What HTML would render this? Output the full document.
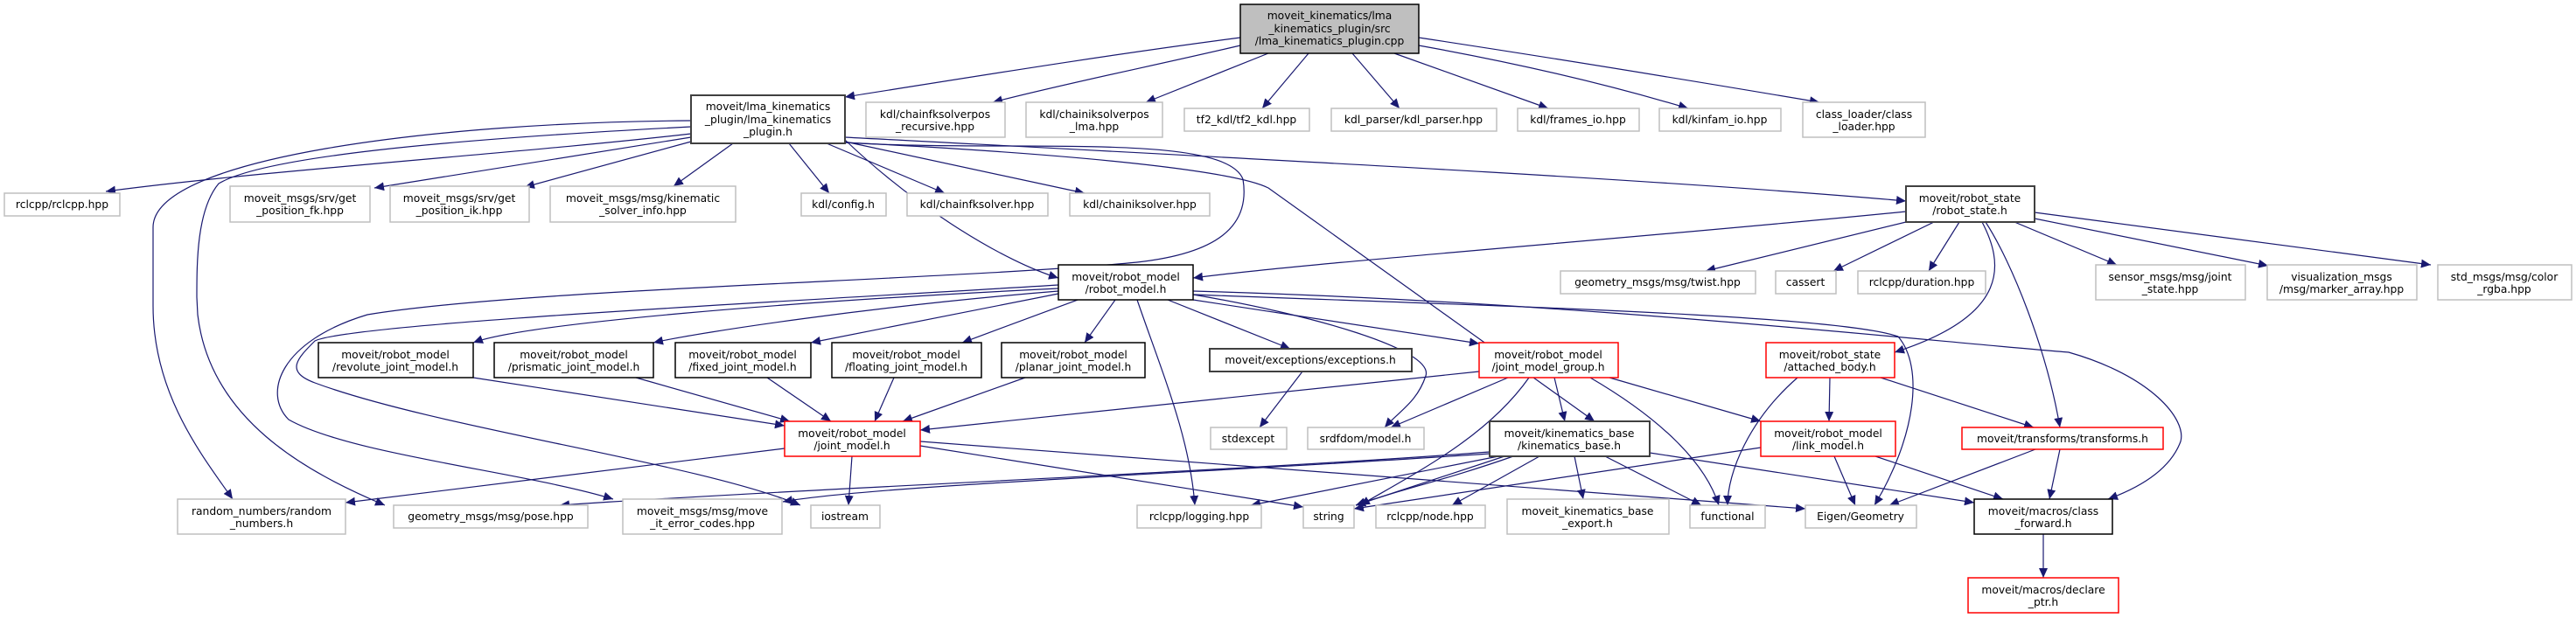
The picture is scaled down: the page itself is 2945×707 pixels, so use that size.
<!DOCTYPE html>
<html><head><meta charset="utf-8"><style>
html,body{margin:0;padding:0;background:#fff;}
svg{display:block;}
text{font-family:"DejaVu Sans","Liberation Sans",sans-serif;font-size:12.3px;fill:#000;text-anchor:middle;}
.b{fill:#fff;stroke:#000;stroke-width:1.5}
.k{fill:#fff;stroke:#404040;stroke-width:2}
.g{fill:#fff;stroke:#bfbfbf;stroke-width:1.5}
.r{fill:#fff;stroke:#ff0000;stroke-width:1.5}
.e{fill:none;stroke:#191970;stroke-width:1.2;marker-end:url(#a)}
</style></head><body>
<svg width="2945" height="707" viewBox="0 0 2945 707" xmlns="http://www.w3.org/2000/svg">
<defs><marker id="a" markerUnits="userSpaceOnUse" markerWidth="12" markerHeight="10" refX="11" refY="5" orient="auto"><path d="M0,0 L11,5 L0,10 z" fill="#191970"/></marker></defs>
<g>
<path class="e" d="M1418,43 C1250,65 1100,90 966,111"/>
<path class="e" d="M1418,52 C1320,75 1220,95 1135,117"/>
<path class="e" d="M1450,61 L1310,117"/>
<path class="e" d="M1496,61 L1443,124"/>
<path class="e" d="M1546,61 L1600,124"/>
<path class="e" d="M1594,61 L1770,124"/>
<path class="e" d="M1622,52 C1750,75 1850,100 1930,124"/>
<path class="e" d="M1622,43 C1800,70 1950,95 2080,117"/>
<path class="e" d="M790,153 C600,175 300,195 121,219"/>
<path class="e" d="M790,157 L428,215"/>
<path class="e" d="M790,162 L600,214"/>
<path class="e" d="M838,164 L770,213"/>
<path class="e" d="M902,164 L948,221"/>
<path class="e" d="M945,164 L1080,221"/>
<path class="e" d="M966,162 L1240,221"/>
<path class="e" d="M966,157 C1400,180 1900,205 2179,230"/>
<path class="e" d="M966,160 C1050,240 1150,300 1210,318"/>
<path class="e" d="M966,163 C1300,180 1420,200 1450,215 L1823,482"/>
<path class="e" d="M790,138 C500,140 175,180 175,260 L175,350 C175,450 230,520 266,571"/>
<path class="e" d="M790,145 C500,160 300,180 250,210 C225,240 225,300 225,340 L226,360 C240,480 350,540 440,578"/>
<path class="e" d="M966,163 C1150,175 1400,150 1421,205 C1430,260 1390,290 1300,300 C1100,320 600,330 420,360 C320,390 300,450 330,480 C400,520 600,540 701,571"/>
<path class="e" d="M1210,330 C900,345 600,370 541,392"/>
<path class="e" d="M1210,333 C1000,350 800,380 747,392"/>
<path class="e" d="M1210,336 L927,392"/>
<path class="e" d="M1232,343 L1100,392"/>
<path class="e" d="M1275,343 L1240,392"/>
<path class="e" d="M1335,343 L1475,399"/>
<path class="e" d="M1364,343 L1691,393"/>
<path class="e" d="M1300,343 C1330,430 1360,500 1366,578"/>
<path class="e" d="M1364,337 C1500,360 1640,400 1630,430 C1620,460 1600,470 1583,489"/>
<path class="e" d="M1210,326 C900,345 400,370 360,390 C340,410 325,425 360,438 C500,490 800,530 915,578"/>
<path class="e" d="M1364,337 C1700,350 2100,360 2170,385 C2200,420 2190,500 2143,578"/>
<path class="e" d="M1364,333 C1800,345 2200,390 2365,403 C2460,430 2500,480 2493,505 C2480,540 2440,560 2410,571"/>
<path class="e" d="M2179,242 C1900,270 1500,300 1364,318"/>
<path class="e" d="M2179,254 L1950,310"/>
<path class="e" d="M2211,254 L2096,310"/>
<path class="e" d="M2240,254 L2205,310"/>
<path class="e" d="M2303,254 L2420,303"/>
<path class="e" d="M2326,250 L2593,304"/>
<path class="e" d="M2326,243 L2779,303"/>
<path class="e" d="M2266,254 C2290,300 2300,360 2166,403"/>
<path class="e" d="M2270,254 C2300,300 2340,400 2355,489"/>
<path class="e" d="M1691,425 L1052,492"/>
<path class="e" d="M1724,432 L1590,489"/>
<path class="e" d="M1777,432 L1789,482"/>
<path class="e" d="M1748,432 C1700,500 1620,540 1555,578"/>
<path class="e" d="M1818,432 C1900,480 1950,530 1965,578"/>
<path class="e" d="M1840,432 L2013,482"/>
<path class="e" d="M897,513 L395,575"/>
<path class="e" d="M974,522 L970,578"/>
<path class="e" d="M1052,510 L1490,580"/>
<path class="e" d="M1052,505 L2064,582"/>
<path class="e" d="M541,432 L897,487"/>
<path class="e" d="M727,432 L903,482"/>
<path class="e" d="M877,432 L950,482"/>
<path class="e" d="M1022,432 L1000,482"/>
<path class="e" d="M1172,432 L1032,482"/>
<path class="e" d="M1489,425 L1440,489"/>
<path class="e" d="M1703,517 C1400,540 900,560 640,578"/>
<path class="e" d="M1703,519 C1400,540 1000,555 895,574"/>
<path class="e" d="M1713,522 L1430,578"/>
<path class="e" d="M1720,522 L1550,578"/>
<path class="e" d="M1730,522 C1650,550 1600,560 1550,578"/>
<path class="e" d="M1760,522 L1660,578"/>
<path class="e" d="M1800,522 L1810,571"/>
<path class="e" d="M1835,522 L1945,578"/>
<path class="e" d="M1886,518 L2257,575"/>
<path class="e" d="M2013,512 L1548,582"/>
<path class="e" d="M2097,522 L2121,578"/>
<path class="e" d="M2144,522 L2290,571"/>
<path class="e" d="M2055,432 C2000,480 1975,540 1975,578"/>
<path class="e" d="M2092,432 L2091,482"/>
<path class="e" d="M2150,432 L2325,489"/>
<path class="e" d="M2327,514 L2160,578"/>
<path class="e" d="M2355,514 L2343,571"/>
<path class="e" d="M2336,611 L2336,661"/>
</g>
<g>
<rect x="1418" y="5" width="204" height="56" fill="#bfbfbf" stroke="#000" stroke-width="1.5"/>
<text x="1520" y="22">moveit_kinematics/lma</text><text x="1520" y="37">_kinematics_plugin/src</text><text x="1520" y="51">/lma_kinematics_plugin.cpp</text>
<rect class="k" x="790" y="109" width="176" height="55"/>
<text x="878" y="126">moveit/lma_kinematics</text><text x="878" y="141">_plugin/lma_kinematics</text><text x="878" y="155">_plugin.h</text>
<rect class="g" x="990" y="117" width="159" height="40"/><text x="1069" y="135">kdl/chainfksolverpos</text><text x="1069" y="149">_recursive.hpp</text>
<rect class="g" x="1173" y="117" width="156" height="40"/><text x="1251" y="135">kdl/chainiksolverpos</text><text x="1251" y="149">_lma.hpp</text>
<rect class="g" x="1354" y="124" width="143" height="26"/><text x="1425" y="141">tf2_kdl/tf2_kdl.hpp</text>
<rect class="g" x="1522" y="124" width="189" height="26"/><text x="1616" y="141">kdl_parser/kdl_parser.hpp</text>
<rect class="g" x="1735" y="124" width="139" height="26"/><text x="1804" y="141">kdl/frames_io.hpp</text>
<rect class="g" x="1897" y="124" width="139" height="26"/><text x="1966" y="141">kdl/kinfam_io.hpp</text>
<rect class="g" x="2061" y="117" width="140" height="40"/><text x="2131" y="135">class_loader/class</text><text x="2131" y="149">_loader.hpp</text>
<rect class="g" x="5" y="221" width="132" height="26"/><text x="71" y="238">rclcpp/rclcpp.hpp</text>
<rect class="g" x="263" y="213" width="160" height="41"/><text x="343" y="231">moveit_msgs/srv/get</text><text x="343" y="245">_position_fk.hpp</text>
<rect class="g" x="446" y="213" width="159" height="41"/><text x="525" y="231">moveit_msgs/srv/get</text><text x="525" y="245">_position_ik.hpp</text>
<rect class="g" x="629" y="213" width="212" height="41"/><text x="735" y="231">moveit_msgs/msg/kinematic</text><text x="735" y="245">_solver_info.hpp</text>
<rect class="g" x="916" y="221" width="97" height="26"/><text x="964" y="238">kdl/config.h</text>
<rect class="g" x="1037" y="221" width="161" height="26"/><text x="1117" y="238">kdl/chainfksolver.hpp</text>
<rect class="g" x="1223" y="221" width="160" height="26"/><text x="1303" y="238">kdl/chainiksolver.hpp</text>
<rect class="k" x="2179" y="213" width="147" height="41"/><text x="2252" y="231">moveit/robot_state</text><text x="2252" y="245">/robot_state.h</text>
<rect class="b" x="1210" y="303" width="154" height="40"/><text x="1287" y="321">moveit/robot_model</text><text x="1287" y="335">/robot_model.h</text>
<rect class="g" x="1784" y="310" width="223" height="26"/><text x="1895" y="327">geometry_msgs/msg/twist.hpp</text>
<rect class="g" x="2030" y="310" width="69" height="26"/><text x="2064" y="327">cassert</text>
<rect class="g" x="2124" y="310" width="146" height="26"/><text x="2197" y="327">rclcpp/duration.hpp</text>
<rect class="g" x="2396" y="303" width="171" height="40"/><text x="2481" y="321">sensor_msgs/msg/joint</text><text x="2481" y="335">_state.hpp</text>
<rect class="g" x="2592" y="303" width="171" height="40"/><text x="2677" y="321">visualization_msgs</text><text x="2677" y="335">/msg/marker_array.hpp</text>
<rect class="g" x="2787" y="303" width="153" height="40"/><text x="2863" y="321">std_msgs/msg/color</text><text x="2863" y="335">_rgba.hpp</text>
<rect class="b" x="364" y="392" width="177" height="40"/><text x="452" y="410">moveit/robot_model</text><text x="452" y="424">/revolute_joint_model.h</text>
<rect class="b" x="565" y="392" width="182" height="40"/><text x="656" y="410">moveit/robot_model</text><text x="656" y="424">/prismatic_joint_model.h</text>
<rect class="b" x="772" y="392" width="155" height="40"/><text x="849" y="410">moveit/robot_model</text><text x="849" y="424">/fixed_joint_model.h</text>
<rect class="b" x="951" y="392" width="171" height="40"/><text x="1036" y="410">moveit/robot_model</text><text x="1036" y="424">/floating_joint_model.h</text>
<rect class="b" x="1145" y="392" width="164" height="40"/><text x="1227" y="410">moveit/robot_model</text><text x="1227" y="424">/planar_joint_model.h</text>
<rect class="k" x="1383" y="399" width="231" height="26"/><text x="1498" y="416">moveit/exceptions/exceptions.h</text>
<rect class="r" x="1691" y="392" width="159" height="40"/><text x="1770" y="410">moveit/robot_model</text><text x="1770" y="424">/joint_model_group.h</text>
<rect class="r" x="2019" y="392" width="147" height="40"/><text x="2092" y="410">moveit/robot_state</text><text x="2092" y="424">/attached_body.h</text>
<rect class="r" x="897" y="482" width="155" height="40"/><text x="974" y="500">moveit/robot_model</text><text x="974" y="514">/joint_model.h</text>
<rect class="g" x="1384" y="489" width="87" height="25"/><text x="1427" y="506">stdexcept</text>
<rect class="g" x="1495" y="489" width="133" height="25"/><text x="1561" y="506">srdfdom/model.h</text>
<rect class="k" x="1703" y="482" width="183" height="40"/><text x="1794" y="500">moveit/kinematics_base</text><text x="1794" y="514">/kinematics_base.h</text>
<rect class="r" x="2013" y="482" width="154" height="40"/><text x="2090" y="500">moveit/robot_model</text><text x="2090" y="514">/link_model.h</text>
<rect class="r" x="2243" y="489" width="230" height="25"/><text x="2358" y="506">moveit/transforms/transforms.h</text>
<rect class="g" x="203" y="571" width="192" height="40"/><text x="299" y="589">random_numbers/random</text><text x="299" y="603">_numbers.h</text>
<rect class="g" x="450" y="578" width="222" height="26"/><text x="561" y="595">geometry_msgs/msg/pose.hpp</text>
<rect class="g" x="712" y="571" width="182" height="40"/><text x="803" y="589">moveit_msgs/msg/move</text><text x="803" y="603">_it_error_codes.hpp</text>
<rect class="g" x="927" y="578" width="79" height="26"/><text x="966" y="595">iostream</text>
<rect class="g" x="1300" y="578" width="142" height="26"/><text x="1371" y="595">rclcpp/logging.hpp</text>
<rect class="g" x="1490" y="578" width="58" height="26"/><text x="1519" y="595">string</text>
<rect class="g" x="1573" y="578" width="125" height="26"/><text x="1635" y="595">rclcpp/node.hpp</text>
<rect class="g" x="1723" y="571" width="185" height="40"/><text x="1815" y="589">moveit_kinematics_base</text><text x="1815" y="603">_export.h</text>
<rect class="g" x="1932" y="578" width="86" height="26"/><text x="1975" y="595">functional</text>
<rect class="g" x="2064" y="578" width="127" height="26"/><text x="2127" y="595">Eigen/Geometry</text>
<rect class="b" x="2257" y="571" width="158" height="40"/><text x="2336" y="589">moveit/macros/class</text><text x="2336" y="603">_forward.h</text>
<rect class="r" x="2250" y="661" width="172" height="40"/><text x="2336" y="679">moveit/macros/declare</text><text x="2336" y="693">_ptr.h</text>
</g>
</svg>
</body></html>
